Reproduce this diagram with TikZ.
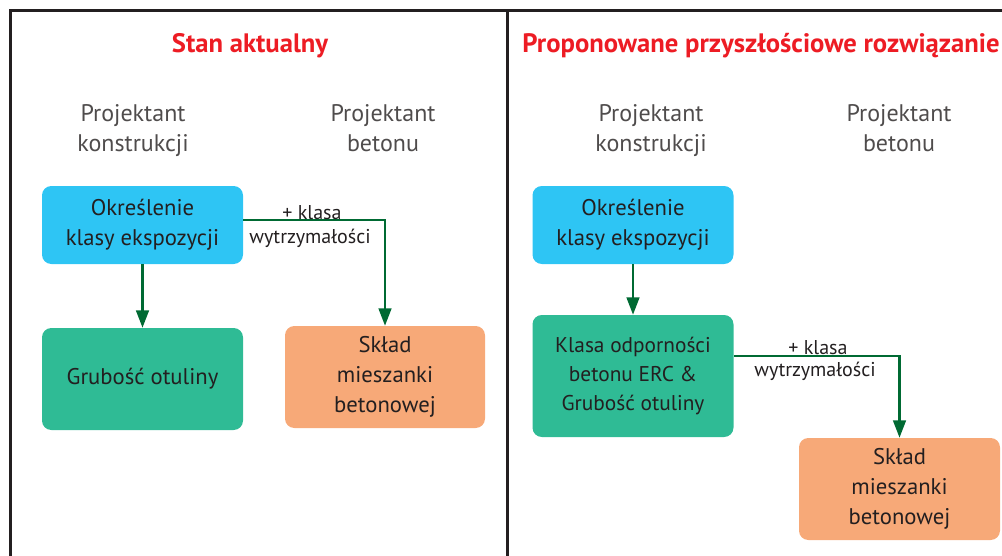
\documentclass[tikz,border=0pt]{standalone}
\usepackage{fontspec}
\setmainfont{PT Sans}
\usetikzlibrary{arrows.meta}

\begin{document}
\begin{tikzpicture}[x=0.75pt,y=-0.75pt,font=\fontsize{17pt}{22.5pt}\selectfont,
    box/.style={rounded corners=7pt,align=center,text=ink,inner sep=0pt,
      minimum width=150.75pt,minimum height=76.5pt},
    role/.style={align=center,anchor=north,text=ink!80,font=\fontsize{18pt}{22.5pt}\selectfont},
    heading/.style={text=titlered,font=\fontsize{20pt}{22pt}\selectfont\bfseries},
    lbl/.style={text=ink,inner sep=0pt,font=\fontsize{15pt}{17pt}\selectfont},
    flow/.style={draw=flowgreen,line width=1.8pt,-{Triangle[width=9.5pt,length=13pt]}}]
  \definecolor{ink}{HTML}{231F20}
  \definecolor{titlered}{HTML}{ED1C24}
  \definecolor{boxblue}{HTML}{2EC5F4}
  \definecolor{boxgreen}{HTML}{2FBB95}
  \definecolor{boxorange}{HTML}{F7A978}
  \definecolor{flowgreen}{HTML}{006A33}

  \useasboundingbox (0,0) rectangle (1002,556);
  \draw[ink,line width=2.25pt] (10,556) -- (10,11) -- (1002,11);
  \draw[ink,line width=2.25pt] (507,11) -- (507,556);

  % Stan aktualny
  \node[heading] (tl) at (250,46) {Stan aktualny};
  \node[role] (pk1) at (133,100) {Projektant\\konstrukcji};
  \node[role] (pb1) at (383,100) {Projektant\\betonu};
  \node[box,fill=boxblue,minimum height=58.5pt] (ek1) at (142.5,225) {Określenie\\klasy ekspozycji};
  \node[box,fill=boxgreen] (go1) at (142.5,379) {Grubość otuliny};
  \node[box,fill=boxorange,minimum width=150pt] (sm1) at (385,377) {Skład\\mieszanki\\betonowej};
  \draw[flow] (ek1.south) -- (go1.north);
  \draw[flow] ([yshift=3.75pt]ek1.east) -| (sm1.north);
  \node[lbl] (kl1) at (312,213) {+ klasa};
  \node[lbl] (wy1) at (310,238) {wytrzymałości};

  % Proponowane rozwiazanie
  \node[heading] (tr) at (761,46) {Proponowane przyszłościowe rozwiązanie};
  \node[role] (pk2) at (651,100) {Projektant\\konstrukcji};
  \node[role] (pb2) at (899,100) {Projektant\\betonu};
  \node[box,fill=boxblue,minimum height=58.5pt] (ek2) at (633,225) {Określenie\\klasy ekspozycji};
  \node[box,fill=boxgreen,minimum height=91.5pt,
    font=\fontsize{16pt}{21.75pt}\selectfont] (go2) at (633,376) {Klasa odporności\\betonu ERC \&\\Grubość otuliny};
  \node[box,fill=boxorange] (sm2) at (899.5,489) {Skład\\mieszanki\\betonowej};
  \draw[flow] (ek2.south) -- (go2.north);
  \draw[flow] ([yshift=15pt]go2.east) -| (sm2.north);
  \node[lbl] (kl2) at (818,348) {+ klasa};
  \node[lbl] (wy2) at (815,371) {wytrzymałości};
\end{tikzpicture}
\end{document}
